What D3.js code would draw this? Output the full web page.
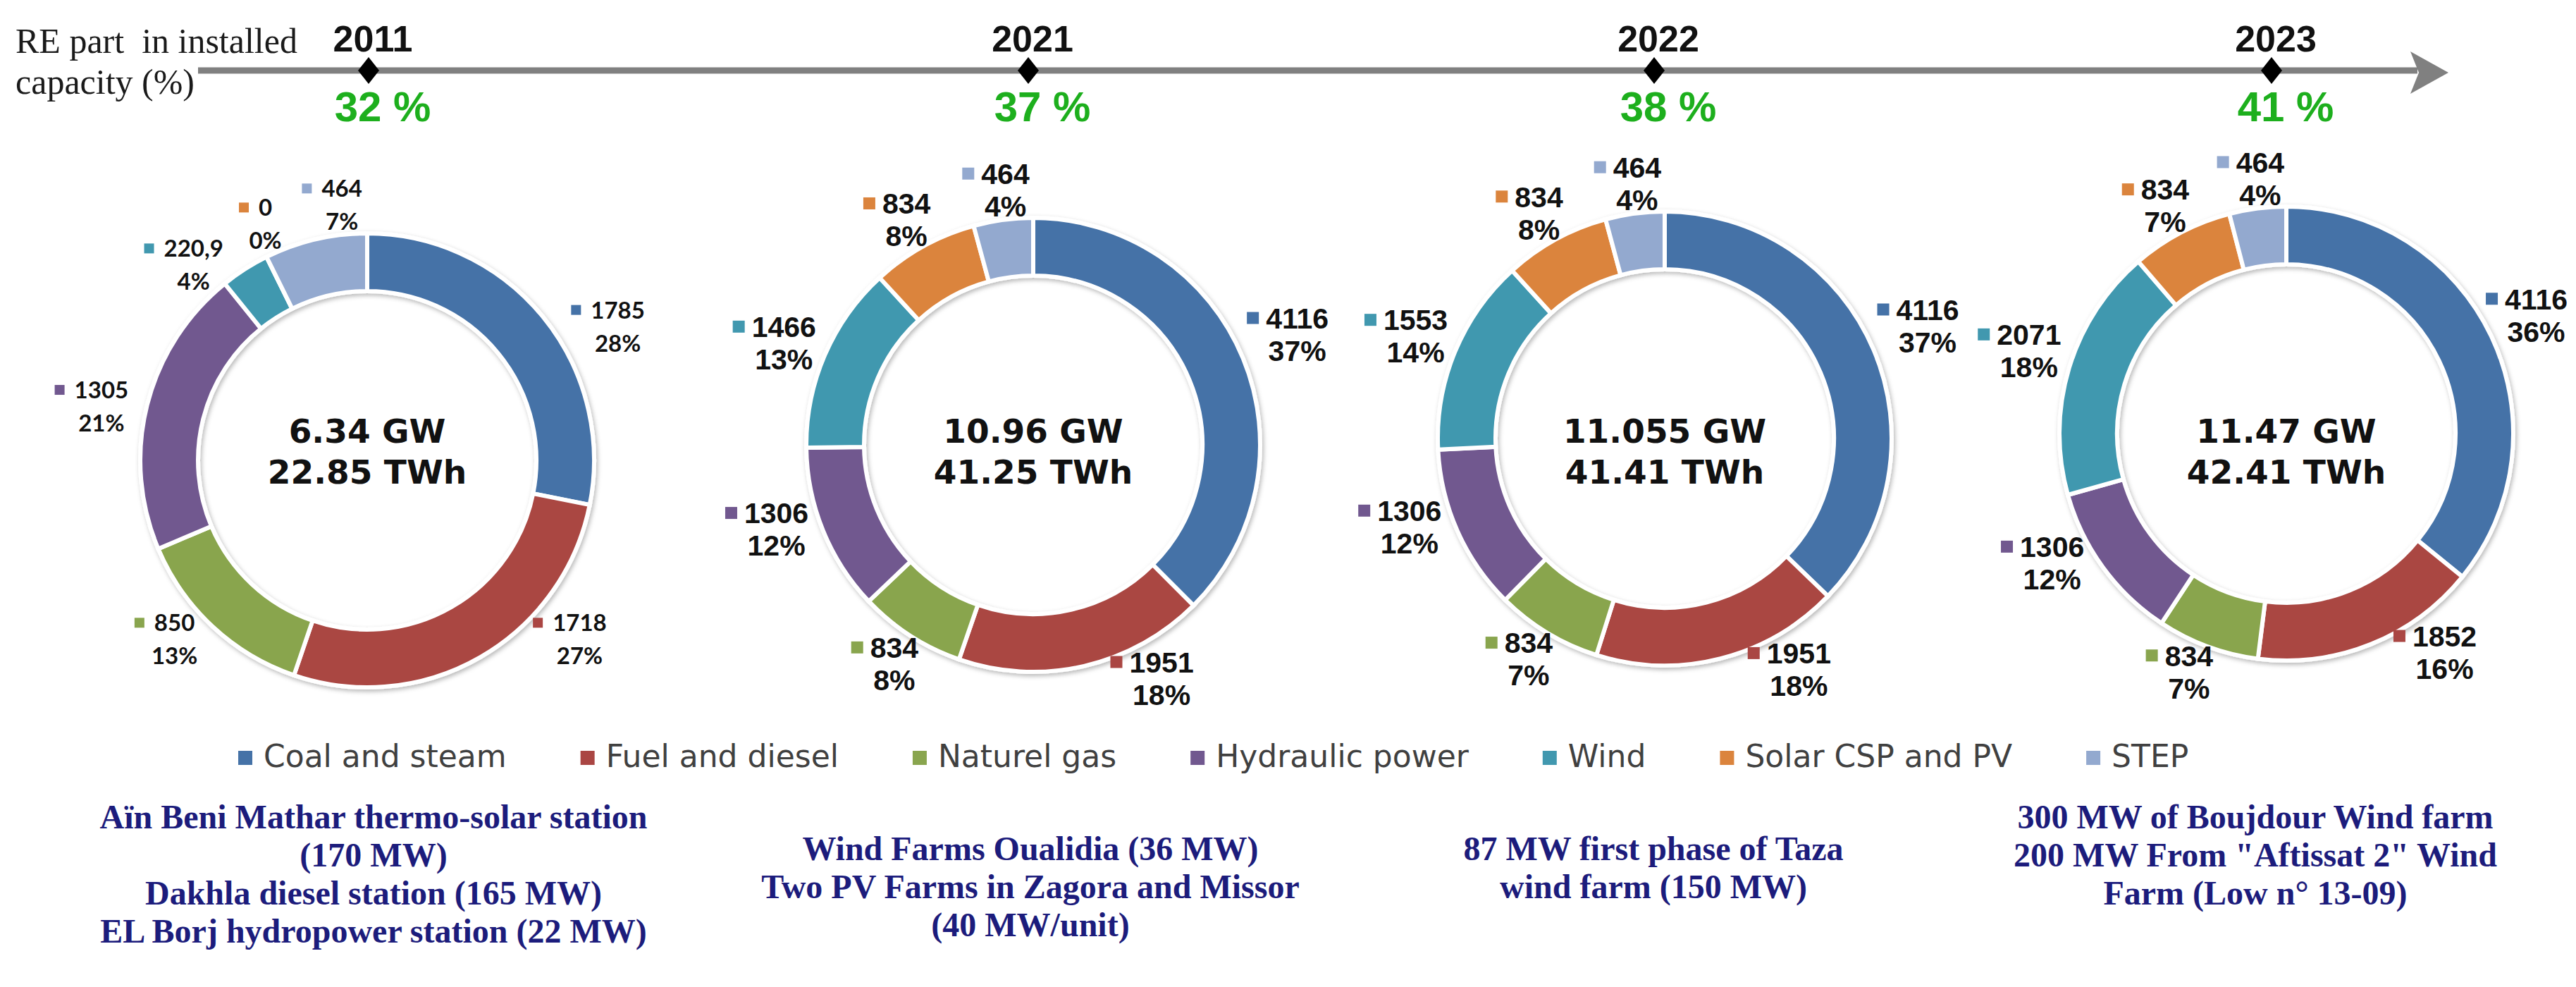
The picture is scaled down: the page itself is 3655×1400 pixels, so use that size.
<!DOCTYPE html>
<html>
<head>
<meta charset="utf-8">
<script src="https://cdn.jsdelivr.net/npm/d3@7"></script>
<style>
  body {margin:0; background:#fff;}
</style>
</head>
<body>
<svg id="chart" width="3655" height="1400"></svg>
<script>
// ---- data ----
var years = ["2011", "2021", "2022", "2023"];
var reShare = ["32 %", "37 %", "38 %", "41 %"];
var sources = ["Coal and steam", "Fuel and diesel", "Naturel gas", "Hydraulic power", "Wind", "Solar CSP and PV", "STEP"];
var colors = ["#4572a7", "#aa4643", "#89a54e", "#71588f", "#4198af", "#db843d", "#93a9cf"];
var mw2011 = [1785, 1718, 850, 1305, 220.9, 0, 464];
var mw2021 = [4116, 1951, 834, 1306, 1466, 834, 464];
var mw2022 = [4116, 1951, 834, 1306, 1553, 834, 464];
var mw2023 = [4116, 1852, 834, 1306, 2071, 834, 464];
var pct2011 = ["28%", "27%", "13%", "21%", "4%", "0%", "7%"];
var pct2021 = ["37%", "18%", "8%", "12%", "13%", "8%", "4%"];
var pct2022 = ["37%", "18%", "7%", "12%", "14%", "8%", "4%"];
var pct2023 = ["36%", "16%", "7%", "12%", "18%", "7%", "4%"];
var capacity = ["6.34 GW", "10.96 GW", "11.055 GW", "11.47 GW"];
var production = ["22.85 TWh", "41.25 TWh", "41.41 TWh", "42.41 TWh"];
var projects = [
  ["Aïn Beni Mathar thermo-solar station", "(170 MW)", "Dakhla diesel station (165 MW)", "EL Borj hydropower station (22 MW)"],
  ["Wind Farms Oualidia (36 MW)", "Two PV Farms in Zagora and Missor", "(40 MW/unit)"],
  ["87 MW first phase of Taza", "wind farm (150 MW)"],
  ["300 MW of Boujdour Wind farm", "200 MW From \"Aftissat 2\" Wind", "Farm (Low n° 13-09)"]
];

var mwByYear = [mw2011, mw2021, mw2022, mw2023];
var pctByYear = [pct2011, pct2021, pct2022, pct2023];

// ---- layout ----
var W = 3655;
var tlX = [523, 1459, 2347, 3223];
var donutX = [521, 1466, 2362, 3244];
var donutY = [653, 631, 622, 615];
var projX = [530, 1462, 2346, 3200];
var projY = [1175, 1220, 1220, 1175];
// label angle nudges (deg) – the labels were dragged by hand in the original
var labelNudge = [
  [8, -16, 3, -2, -8, 3, 6],
  [-3, -12, -1, 3, 0, 0, 0],
  [-3, -12, 0, 4, 1, 0, 0],
  [-2, -10, 2, 6, 2, 0, 0]
];
var lineY = 100;
var R = 322, r = 240, labelRx = 400, labelRy = 365;

var svg = d3.select("#chart");
var color = d3.scaleOrdinal().domain(sources).range(colors);

var defs = svg.append("defs");
var f = defs.append("filter").attr("id", "shadow").attr("x", "-10%").attr("y", "-10%").attr("width", "120%").attr("height", "120%");
f.append("feDropShadow").attr("dx", 2).attr("dy", 3).attr("stdDeviation", 3)
  .attr("flood-color", "#000").attr("flood-opacity", 0.28);

// ---- title + timeline ----
var title = svg.append("text")
  .style("font-family", "'Liberation Serif', serif").style("font-size", "50px")
  .style("white-space", "pre").attr("fill", "#1a1a1a");
title.append("tspan").attr("x", 22).attr("y", 75).text("RE part  in installed");
title.append("tspan").attr("x", 22).attr("y", 133).text("capacity (%)");

svg.append("line").attr("x1", 281).attr("x2", 3430).attr("y1", lineY).attr("y2", lineY)
  .attr("stroke", "#808080").attr("stroke-width", 9);
svg.append("path").attr("d", "M3420," + (lineY - 27) + " L3474," + (lineY + 3) + " L3420," + (lineY + 33) + " L3432," + (lineY + 3) + "Z")
  .attr("fill", "#808080");

var tl = svg.selectAll("g.tick").data(years).enter().append("g").attr("class", "tick")
  .attr("transform", function(d, i) { return "translate(" + tlX[i] + "," + lineY + ")"; });
tl.append("path").attr("d", "M0,-19 L15,0 L0,19 L-15,0Z").attr("fill", "#000");
tl.append("text").attr("x", 6).attr("y", -27).attr("text-anchor", "middle")
  .style("font-family", "'Liberation Sans', Arial, sans-serif").style("font-weight", "bold").style("font-size", "52px")
  .attr("fill", "#111").text(function(d) { return d; });
tl.append("text").attr("x", 20).attr("y", 72).attr("text-anchor", "middle")
  .style("font-family", "'Liberation Sans', Arial, sans-serif").style("font-weight", "bold").style("font-size", "60px")
  .attr("fill", "#1daf1d").text(function(d, i) { return reShare[i]; });

// ---- donuts ----
var pie = d3.pie().sort(null).value(function(d) { return d; });
var arc = d3.arc().innerRadius(r).outerRadius(R);

years.forEach(function(yr, k) {
  var g = svg.append("g").attr("transform", "translate(" + donutX[k] + "," + donutY[k] + ")");
  var arcs = pie(mwByYear[k]);

  g.append("g").attr("filter", "url(#shadow)")
    .selectAll("path").data(arcs).enter().append("path")
    .attr("d", arc)
    .attr("fill", function(d, i) { return colors[i]; })
    .attr("stroke", "#fff").attr("stroke-width", 6).attr("stroke-linejoin", "miter");

  var small = k === 0;
  var fs = small ? 33 : 41, cap = fs * 0.72, lh = small ? 47 : 46, ms = small ? 14 : 17, gap = small ? 14 : 10;
  var fam = small ? "Lato, 'Liberation Sans', sans-serif" : "'Liberation Sans', Arial, sans-serif";
  var b1 = (cap - lh) / 2;

  var lab = g.selectAll("g.lab").data(arcs).enter().append("g").attr("class", "lab");
  lab.each(function(d, i) {
    var s = d3.select(this);
    var a = (d.startAngle + d.endAngle) / 2 + labelNudge[k][i] * Math.PI / 180;
    var tx = Math.sin(a) * labelRx, ty = -Math.cos(a) * labelRy;
    var num = s.append("text").attr("y", b1).attr("text-anchor", "middle")
      .style("font-family", fam).style("font-weight", "bold").style("font-size", fs + "px")
      .attr("fill", "#111").text(String(d.data).replace(".", ","));
    var w = num.node().getComputedTextLength();
    var bw = ms + gap + w;
    var left = -bw / 2;
    var nx = left + ms + gap + w / 2;
    num.attr("x", nx);
    s.append("rect").attr("x", left).attr("y", b1 - cap / 2 - ms / 2).attr("width", ms).attr("height", ms)
      .attr("fill", colors[i]);
    s.append("text").attr("x", nx).attr("y", b1 + lh).attr("text-anchor", "middle")
      .style("font-family", fam).style("font-weight", "bold").style("font-size", fs + "px")
      .attr("fill", "#111").text(pctByYear[k][i]);
    // keep the block inside the page
    if (donutX[k] + tx + bw / 2 > W - 12) tx = W - 12 - donutX[k] - bw / 2;
    s.attr("transform", "translate(" + tx + "," + ty + ")");
  });

  var ct = svg.append("text").attr("text-anchor", "middle")
    .style("font-family", "'DejaVu Sans', Verdana, sans-serif").style("font-weight", "bold").style("font-size", "47px")
    .attr("fill", "#111");
  ct.append("tspan").attr("x", donutX[k]).attr("y", 628).text(capacity[k]);
  ct.append("tspan").attr("x", donutX[k]).attr("y", 686).text(production[k]);
});

// ---- legend ----
var lx = 338;
var legend = svg.append("g").attr("transform", "translate(0,1088)");
sources.forEach(function(s, i) {
  legend.append("rect").attr("x", lx).attr("y", -23).attr("width", 20).attr("height", 20).attr("fill", color(s));
  var t = legend.append("text").attr("x", lx + 36).attr("y", 0)
    .style("font-family", "'DejaVu Sans', Verdana, sans-serif").style("font-size", "44px")
    .attr("fill", "#404040").text(s);
  lx += 36 + t.node().getComputedTextLength() + 105;
});

// ---- project notes ----
projects.forEach(function(lines, k) {
  var t = svg.append("text").attr("text-anchor", "middle")
    .style("font-family", "'Liberation Serif', 'Times New Roman', serif").style("font-weight", "bold").style("font-size", "48px")
    .attr("fill", "#1c1c7c");
  lines.forEach(function(l, j) {
    t.append("tspan").attr("x", projX[k]).attr("y", projY[k] + j * 54).text(l);
  });
});
</script>
</body>
</html>
